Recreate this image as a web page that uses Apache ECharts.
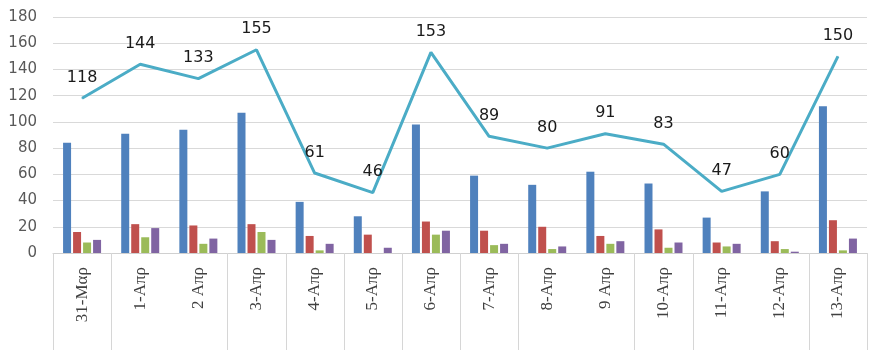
<!DOCTYPE html>
<html><head><meta charset="utf-8">
<script src="https://cdn.jsdelivr.net/npm/echarts@6/dist/echarts.min.js"></script>
<style>html,body{margin:0;padding:0;background:#fff}#c{width:880px;height:350px}</style>
</head><body><div id="c"></div>
<script>
const categories = ['31-Μαρ','1-Απρ','2 Απρ','3-Απρ','4-Απρ','5-Απρ','6-Απρ','7-Απρ','8-Απρ','9 Απρ','10-Απρ','11-Απρ','12-Απρ','13-Απρ'];
const blueVals   = [84, 91, 94, 107, 39, 28, 98, 59, 52, 62, 53, 27, 47, 112];
const redVals    = [16, 22, 21, 22, 13, 14, 24, 17, 20, 13, 18, 8, 9, 25];
const greenVals  = [8, 12, 7, 16, 2, 0, 14, 6, 3, 7, 4, 5, 3, 2];
const purpleVals = [10, 19, 11, 10, 7, 4, 17, 7, 5, 9, 8, 7, 1, 11];
const totalVals  = [118, 144, 133, 155, 61, 46, 153, 89, 80, 91, 83, 47, 60, 150];
const dividerPositions = [0, 1, 3, 4, 5, 6, 7, 8, 10, 11, 13, 14];

const chart = echarts.init(document.getElementById('c'));
const barS = (data, color) => ({type:'bar', xAxisIndex:0, yAxisIndex:0, data, barWidth:8, barGap:'25%', itemStyle:{color}});
chart.setOption({
  animation:false,
  grid:[{left:53, right:13, top:17, bottom:97},{left:53, right:13, top:253, bottom:0}],
  xAxis:[{
    gridIndex:0, type:'category', data:categories, boundaryGap:true,
    axisLine:{show:true, lineStyle:{color:'#d0d0d0', width:1}},
    axisTick:{show:false},
    axisLabel:{rotate:90, margin:14, interval:0, fontFamily:'Liberation Serif', fontSize:17, color:'#404040'}
  },{
    gridIndex:1, type:'value', min:0, max:categories.length, show:false
  }],
  yAxis:[{
    gridIndex:0, type:'value', min:0, max:180, interval:20,
    axisLine:{show:false}, axisTick:{show:false},
    splitLine:{lineStyle:{color:'#d9d9d9', width:1}},
    axisLabel:{margin:16, fontFamily:'DejaVu Sans', fontSize:15, color:'#595959'}
  },{
    gridIndex:1, type:'value', min:0, max:1, show:false
  }],
  series:[
    barS(blueVals,'#4F81BD'),
    barS(redVals,'#C0504D'),
    barS(greenVals,'#9BBB59'),
    barS(purpleVals,'#8064A2'),
    {type:'line', xAxisIndex:0, yAxisIndex:0, data:totalVals, symbol:'circle', symbolSize:1, showSymbol:true,
     itemStyle:{color:'#4BACC6'},
     lineStyle:{color:'#4BACC6', width:3},
     label:{show:true, position:'top', distance:12, fontFamily:'DejaVu Sans', fontSize:16, color:'#1a1a1a'}},
    {type:'custom', xAxisIndex:1, yAxisIndex:1, data:dividerPositions.map(v=>[v]), silent:true, clip:false,
     renderItem:(params, api)=>{
       const p0 = api.coord([api.value(0), 1]);
       const p1 = api.coord([api.value(0), 0]);
       const x = Math.round(p0[0]) + 0.5;
       return {type:'line', shape:{x1:x, y1:p0[1], x2:x, y2:p1[1]}, style:{stroke:'#d6d6d6', lineWidth:1}};
     }}
  ]
});
</script></body></html>
